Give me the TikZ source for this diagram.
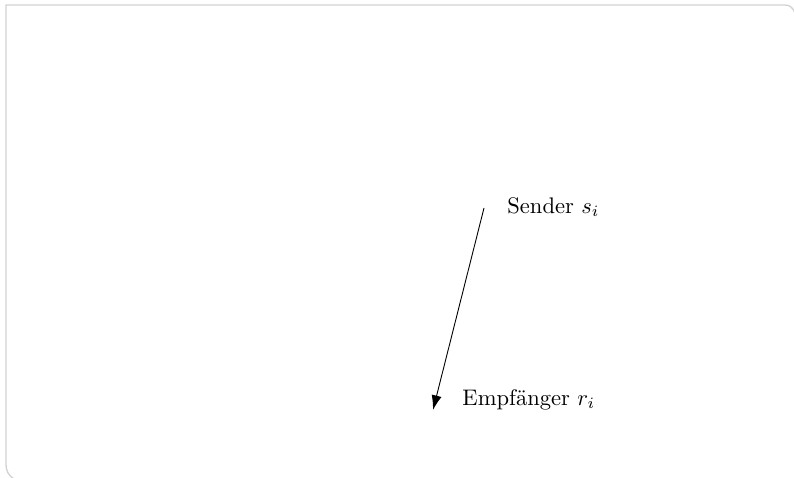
\documentclass[tikz,border=0pt]{standalone}
\usepackage{amsmath,amssymb}
\usepackage{xcolor}
\usepackage{tikz}
\usetikzlibrary{arrows.meta,positioning}

\begin{document}
\begin{tikzpicture}[
  x=0.0156cm,y=-0.0156cm,
  frame/.style={draw=gray!35,line width=0.6pt},
  lbl/.style={font=\normalsize,inner sep=0pt,anchor=west},
  arr/.style={-{Latex[length=6.5pt,width=4.5pt]}}
]
\useasboundingbox (0,0) rectangle (794,478);
\clip (0,0) rectangle (794,478);

% frame
\draw[frame] (14,479) .. controls (8,475) and (6,471) .. (6,463) -- (6,5)
  -- (785,5) .. controls (790,5) and (793,8) .. (795,13);

\coordinate (tx) at (484,208);
\coordinate (rx) at (433,410);

\node[lbl] (sender) at (507,207) {Sender $s_i$};
\node[lbl] (recv) at (462,400) {Empf\"anger $r_i$};

\draw[arr] (tx)--(rx);
\end{tikzpicture}
\end{document}
